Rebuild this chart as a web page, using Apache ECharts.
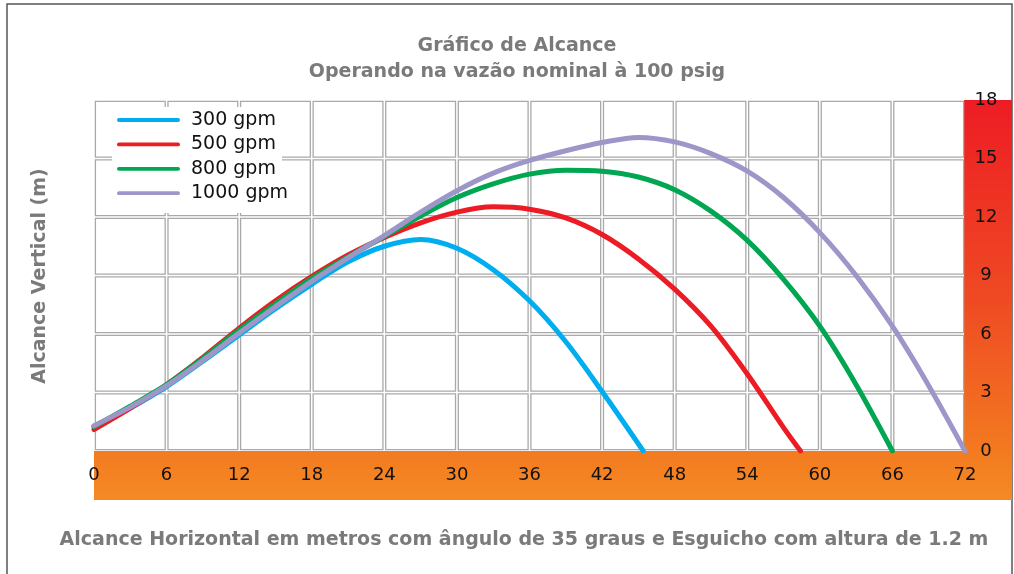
<!DOCTYPE html>
<html>
<head>
<meta charset="utf-8">
<script src="https://cdn.jsdelivr.net/npm/echarts@6/dist/echarts.min.js"></script>
<style>
html,body{margin:0;padding:0;background:#fff;}
#c{width:1014px;height:574px;}
</style>
</head>
<body>
<div id="c"></div>
<script>
// ---- data ----
var xTicks = [0, 6, 12, 18, 24, 30, 36, 42, 48, 54, 60, 66, 72];
var yTicks = [0, 3, 6, 9, 12, 15, 18];
var seriesNames = ['300 gpm', '500 gpm', '800 gpm', '1000 gpm'];

var x300 = [0, 3, 6, 9, 12, 15, 18, 21, 24, 27, 30, 33, 36, 39, 42, 45.4];
var y300 = [1.25, 2.2, 3.3, 4.6, 5.95, 7.3, 8.55, 9.7, 10.5, 10.85, 10.4, 9.3, 7.7, 5.6, 3.05, 0];

var x500 = [0, 3, 6, 9, 12, 15, 18, 21, 24, 27, 30, 33, 36, 39, 42, 45, 48, 51, 54, 57, 58.4];
var y500 = [1.1, 2.2, 3.4, 4.8, 6.3, 7.7, 8.95, 10.05, 10.95, 11.7, 12.25, 12.52, 12.4, 11.95, 11.1, 9.85, 8.3, 6.4, 3.95, 1.2, 0];

var x800 = [0, 3, 6, 9, 12, 15, 18, 21, 24, 27, 30, 33, 36, 39, 42, 45, 48, 51, 54, 57, 60, 63, 66];
var y800 = [1.25, 2.3, 3.4, 4.75, 6.2, 7.55, 8.85, 9.95, 11.0, 12.05, 13.0, 13.7, 14.2, 14.4, 14.35, 14.05, 13.4, 12.3, 10.8, 8.8, 6.4, 3.4, 0];

var x1000 = [0, 3, 6, 9, 12, 15, 18, 21, 24, 27, 30, 33, 36, 39, 42, 45, 48, 51, 54, 57, 60, 63, 66, 69, 72];
var y1000 = [1.3, 2.25, 3.35, 4.65, 6.05, 7.4, 8.7, 9.9, 11.05, 12.25, 13.35, 14.25, 14.9, 15.4, 15.82, 16.08, 15.85, 15.25, 14.35, 13.0, 11.2, 9.0, 6.4, 3.35, 0];

var colors = ['#00aeef', '#ed1c24', '#00a651', '#9d97c9'];

// ---- build ----
function pairs(xs, ys) { return xs.map(function (x, i) { return [x, ys[i]]; }); }
var cells = [];
for (var i = 0; i < xTicks.length - 1; i++) {
  for (var j = 0; j < yTicks.length - 1; j++) {
    cells.push([xTicks[i], yTicks[j], xTicks[i + 1], yTicks[j + 1]]);
  }
}
var FONT = 'DejaVu Sans';
var chart = echarts.init(document.getElementById('c'), null, { renderer: 'canvas' });
var lineData = [pairs(x300, y300), pairs(x500, y500), pairs(x800, y800), pairs(x1000, y1000)];

var series = [{
  type: 'custom',
  z: 1,
  silent: true,
  data: cells,
  renderItem: function (params, api) {
    var p1 = api.coord([api.value(0), api.value(3)]);
    var p2 = api.coord([api.value(2), api.value(1)]);
    var inset = 1.4;
    return {
      type: 'rect',
      shape: { x: p1[0] + inset, y: p1[1] + inset, width: p2[0] - p1[0] - 2 * inset, height: p2[1] - p1[1] - 2 * inset },
      style: { fill: '#ffffff', stroke: '#a9a9a9', lineWidth: 1.3 }
    };
  }
}];
seriesNames.forEach(function (n, k) {
  series.push({
    name: n,
    type: 'line',
    z: 3 + k,
    smooth: 0.33,
    showSymbol: false,
    symbol: 'none',
    data: lineData[k],
    lineStyle: { color: colors[k], width: 5, cap: 'round', join: 'round' },
    itemStyle: { color: colors[k] }
  });
});

var option = {
  backgroundColor: '#ffffff',
  animation: false,
  grid: { left: 94, right: 49, top: 100, bottom: 123, containLabel: false },
  legend: {
    data: seriesNames,
    orient: 'vertical',
    left: 112, top: 105,
    padding: [4, 0, 5, 5],
    itemWidth: 63, itemHeight: 6,
    itemGap: 2.4,
    icon: 'path://M3,0 L97,0 A3,3 0 0 1 97,6 L3,6 A3,3 0 0 1 3,0 Z',
    textStyle: { fontFamily: FONT, fontSize: 19, color: '#111', lineHeight: 22, padding: [0, 0, 0, 6] }
  },
  xAxis: {
    type: 'value', min: 0, max: 72, interval: 6, z: 10,
    axisLine: { show: false }, axisTick: { show: false }, splitLine: { show: false },
    axisLabel: { fontFamily: FONT, fontSize: 18, color: '#111', margin: 15 }
  },
  yAxis: {
    type: 'value', min: 0, max: 18, interval: 3, position: 'right', z: 10,
    axisLine: { show: false }, axisTick: { show: false }, splitLine: { show: false },
    axisLabel: { fontFamily: FONT, fontSize: 18, color: '#111', margin: 21, align: 'center' }
  },
  graphic: [
    { type: 'rect', z: -5, silent: true, shape: { x: 7, y: 4, width: 1005, height: 620 }, style: { fill: 'none', stroke: '#555', lineWidth: 1.5 } },
    { type: 'rect', z: -4, silent: true, shape: { x: 94, y: 451, width: 918, height: 49 },
      style: { fill: new echarts.graphic.LinearGradient(0, 0, 0, 1, [{ offset: 0, color: '#f37a20' }, { offset: 1, color: '#f58a24' }]) } },
    { type: 'rect', z: -4, silent: true, shape: { x: 964, y: 100, width: 48, height: 400 },
      style: { fill: new echarts.graphic.LinearGradient(0, 0, 0, 1, [{ offset: 0, color: '#ed1c24' }, { offset: 0.5, color: '#ef4a23' }, { offset: 0.88, color: '#f37a20' }, { offset: 1, color: '#f58a24' }]) } },
    { type: 'rect', z: 2, silent: true, shape: { x: 112, y: 107, width: 170, height: 106 }, style: { fill: '#ffffff' } },
    { type: 'text', z: 20, silent: true, x: 517, y: 46,
      style: { text: 'Gráfico de Alcance', fontFamily: FONT, fontSize: 19, fontWeight: 'bold', fill: '#7a7a7a', align: 'center', verticalAlign: 'middle' } },
    { type: 'text', z: 20, silent: true, x: 517, y: 72,
      style: { text: 'Operando na vazão nominal à 100 psig', fontFamily: FONT, fontSize: 19, fontWeight: 'bold', fill: '#7a7a7a', align: 'center', verticalAlign: 'middle' } },
    { type: 'text', z: 20, silent: true, x: 40, y: 276, rotation: Math.PI / 2,
      style: { text: 'Alcance Vertical (m)', fontFamily: FONT, fontSize: 19, fontWeight: 'bold', fill: '#7a7a7a', align: 'center', verticalAlign: 'middle' } },
    { type: 'text', z: 20, silent: true, x: 524, y: 540,
      style: { text: 'Alcance Horizontal em metros com ângulo de 35 graus e Esguicho com altura de 1.2 m', fontFamily: FONT, fontSize: 19, fontWeight: 'bold', fill: '#7a7a7a', align: 'center', verticalAlign: 'middle' } }
  ],
  series: series
};
chart.setOption(option);
</script>
</body>
</html>
